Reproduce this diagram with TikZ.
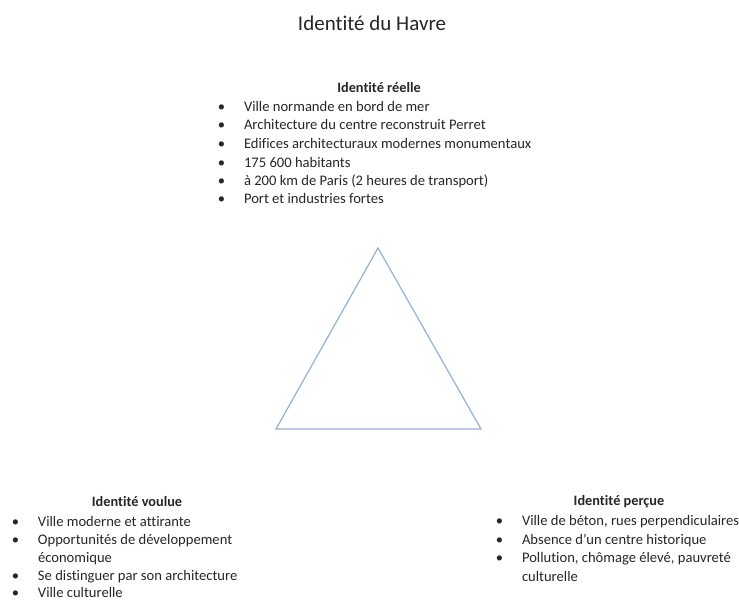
\documentclass[tikz,border=0pt]{standalone}
\usepackage{fontspec}
\setmainfont{Carlito}[Ligatures=NoCommon]
\usepackage{tikz}

\definecolor{bleutri}{RGB}{150,175,215}
\newcommand\puce{\llap{\makebox[45pt]{\textbullet}}}

\begin{document}
\begin{tikzpicture}[x=1pt,y=-1pt,
    every node/.style={inner sep=0pt, outer sep=0pt, text=black!85},
    titre/.style={font=\fontsize{21}{25}\selectfont},
    entete/.style={font=\bfseries\fontsize{14.3}{17}\selectfont},
    ligne/.style={anchor=base west, font=\fontsize{14.6}{18}\selectfont}]
    \useasboundingbox (0,0) rectangle (739,601);
    \node[titre] (titre) at (372,23) {Identité du Havre};

    % identite reelle
    \node[entete] (reelle) at (379,88) {Identité réelle};
    \node[ligne] (r1) at (244,112) {\puce Ville normande en bord de mer};
    \node[ligne] (r2) at (244,130) {\puce Architecture du centre reconstruit Perret};
    \node[ligne] (r3) at (244,149) {\puce Edifices architecturaux modernes monumentaux};
    \node[ligne] (r4) at (244,168) {\puce 175 600 habitants};
    \node[ligne] (r5) at (244,186) {\puce à 200 km de Paris (2 heures de transport)};
    \node[ligne] (r6) at (244,204) {\puce Port et industries fortes};

    % triangle
    \coordinate (haut) at (378,248);
    \coordinate (gauche) at (276,429);
    \coordinate (droite) at (481,429);
    \draw[bleutri, line width=1.2pt] (haut) -- (droite) -- (gauche) -- cycle;

    % identite voulue
    \node[entete] (voulue) at (137,502) {Identité voulue};
    \node[ligne] (v1) at (38,526) {\puce Ville moderne et attirante};
    \node[ligne] (v2) at (38,544) {\puce Opportunités de développement};
    \node[ligne] (v3) at (38,562) {économique};
    \node[ligne] (v4) at (38,580) {\puce Se distinguer par son architecture};
    \node[ligne] (v5) at (38,597) {\puce Ville culturelle};

    % identite percue
    \node[entete] (percue) at (619,502) {Identité perçue};
    \node[ligne] (p1) at (522,525) {\puce Ville de béton, rues perpendiculaires};
    \node[ligne] (p2) at (522,544) {\puce Absence d’un centre historique};
    \node[ligne] (p3) at (522,562) {\puce Pollution, chômage élevé, pauvreté};
    \node[ligne] (p4) at (522,581) {culturelle};
\end{tikzpicture}
\end{document}
